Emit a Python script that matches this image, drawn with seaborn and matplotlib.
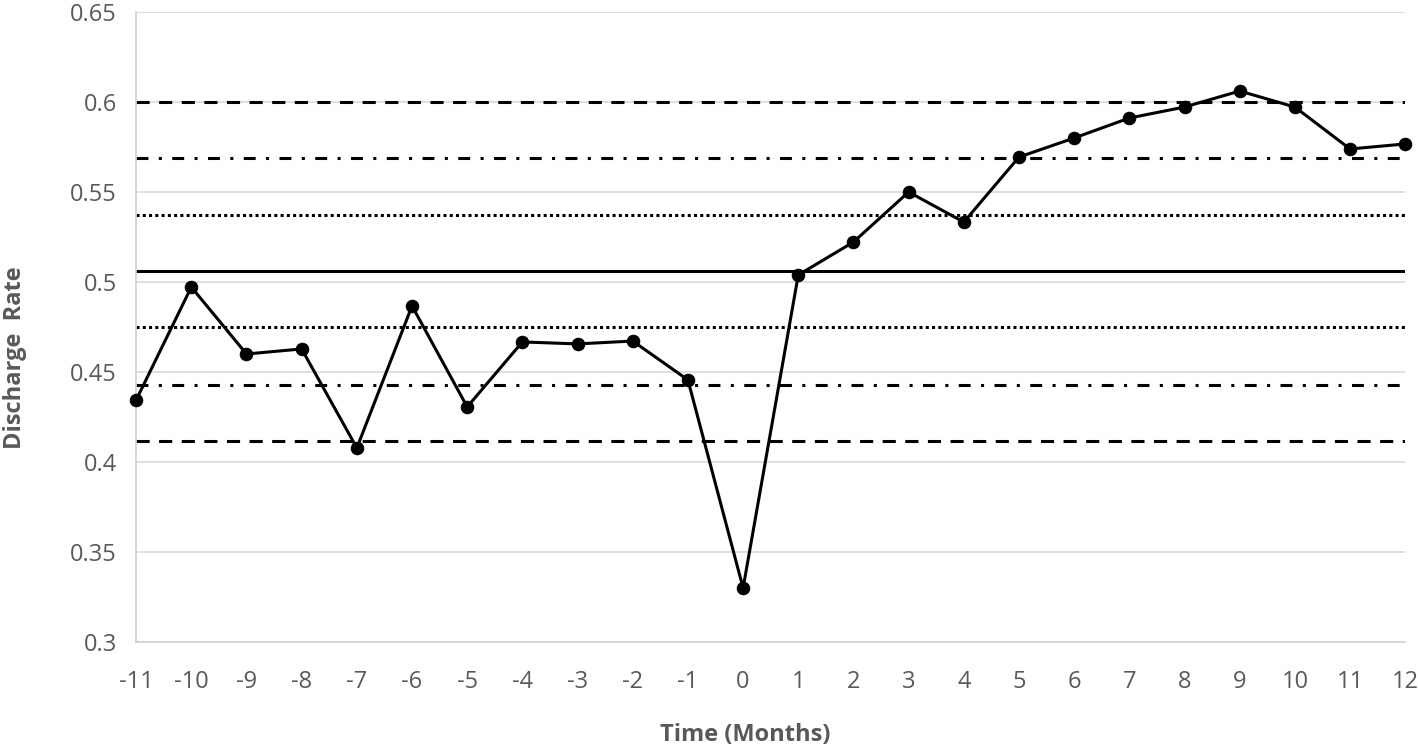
import matplotlib
matplotlib.use("Agg")
import matplotlib.pyplot as plt
import numpy as np
import pandas as pd
import seaborn as sns

sns.set_style("white")
plt.rcParams['font.family'] = ['Open Sans', 'DejaVu Sans']
plt.rcParams['axes.unicode_minus'] = False

# monthly discharge rate, months -11 .. 12
months = list(range(-11, 13))
rate = [0.4344, 0.4972, 0.4600, 0.4628, 0.4078, 0.4867, 0.4306, 0.4667,
        0.4656, 0.4672, 0.4456, 0.3300, 0.5039, 0.5222, 0.5500, 0.5333,
        0.5694, 0.5800, 0.5911, 0.5972, 0.6061, 0.5972, 0.5739, 0.5767]

# control chart reference lines
center_line = 0.506
sigma1 = [0.475, 0.537]   # dotted
sigma2 = [0.443, 0.569]   # dash-dot
sigma3 = [0.4115, 0.600]  # dashed

df = pd.DataFrame({"Month": months, "Rate": rate})

fig = plt.figure(figsize=(14.18, 7.5), dpi=100)
ax = fig.add_axes([0.096, 0.144, 0.895, 0.84])

grey = "#595959"
ax.set_ylim(0.3, 0.65)
ax.set_xlim(-11, 12)
ax.set_yticks(np.arange(0.3, 0.651, 0.05))
ax.set_yticklabels(["0.3", "0.35", "0.4", "0.45", "0.5", "0.55", "0.6", "0.65"])
ax.set_xticks(months)
ax.grid(axis="y", color="#d9d9d9", linewidth=1.2)
ax.set_axisbelow(True)
for side in ["top", "right"]:
    ax.spines[side].set_visible(False)
for side in ["left", "bottom"]:
    ax.spines[side].set_color("#d0d0d0")
    ax.spines[side].set_linewidth(1.2)

lw = 2.2
ax.axhline(center_line, color="black", lw=lw, zorder=2)
for v in sigma1:
    ax.axhline(v, color="black", lw=lw, linestyle=(0, (1.0, 1.05)), zorder=2)
for v in sigma2:
    ax.axhline(v, color="black", lw=lw, linestyle=(0, (3.9, 3.4, 1.0, 3.4)), zorder=2)
for v in sigma3:
    ax.axhline(v, color="black", lw=lw, linestyle=(0, (4.3, 3.1)), zorder=2)

sns.lineplot(data=df, x="Month", y="Rate", ax=ax, color="black", lw=2.2,
             marker="o", markersize=9, markeredgecolor="black", clip_on=False, zorder=3)

ax.tick_params(axis="both", labelsize=17, colors=grey, length=0)
ax.tick_params(axis="x", pad=20)
ax.tick_params(axis="y", pad=14)
ax.set_xlabel("Time (Months)", fontsize=17, fontweight="bold", color=grey)
ax.set_ylabel("Discharge  Rate", fontsize=17, fontweight="bold", color=grey)
ax.xaxis.set_label_coords(0.48, -0.128)
ax.yaxis.set_label_coords(-0.086, 0.452)

fig.savefig("out.png", dpi=100)
